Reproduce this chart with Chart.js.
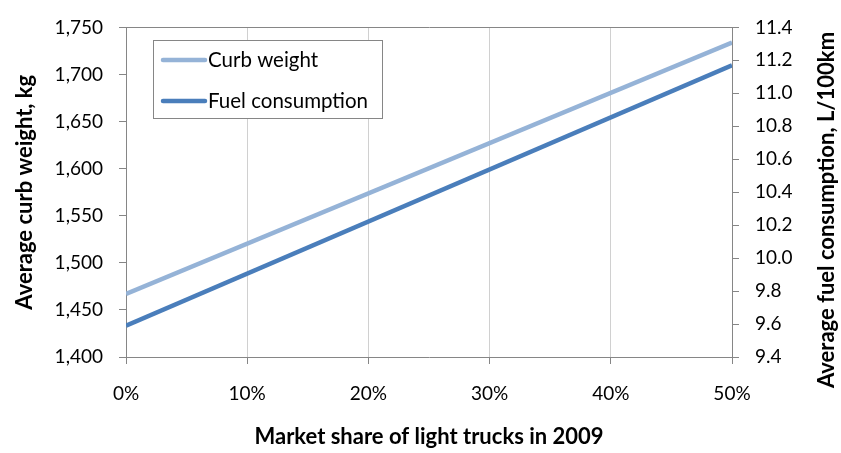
<!DOCTYPE html>
<html>
<head>
<meta charset="utf-8">
<script src="https://cdn.jsdelivr.net/npm/chart.js@4/dist/chart.umd.min.js"></script>
<style>
  body { margin: 0; background: #fff; }
  #wrap { width: 841px; height: 453px; }
</style>
</head>
<body>
<div id="wrap"><canvas id="myChart" width="841" height="453"></canvas></div>
<script>
// market share of light trucks (fraction), read at both ends of the lines
const shares = [0, 0.5];
const curbWeight = [1467, 1734];    // kg, left axis
const fuelUse = [9.59, 11.17];      // L/100km, right axis

const weightTicks = { min: 1400, max: 1750, step: 50 };
const fuelTicks = { min: 9.4, max: 11.4, step: 0.2 };
const shareTicks = { min: 0, max: 0.5, step: 0.1 };

const axisGray = "#868686";
const fontName = "Lato, 'Liberation Sans', sans-serif";

// legend in a framed box inside the plot, and the right title read bottom-up
const extras = {
  id: "extras",
  afterDraw(chart) {
    const ctx = chart.ctx;
    ctx.save();
    ctx.fillStyle = "#fff";
    ctx.strokeStyle = axisGray;
    ctx.lineWidth = 1;
    ctx.fillRect(153.5, 40.5, 229, 78);
    ctx.strokeRect(153.5, 40.5, 229, 78);
    ctx.font = "20.5px " + fontName;
    ctx.textBaseline = "middle";
    chart.data.datasets.forEach((ds, i) => {
      const y = 60 + i * 41;
      ctx.strokeStyle = ds.borderColor;
      ctx.lineWidth = 4.5;
      ctx.lineCap = "round";
      ctx.beginPath();
      ctx.moveTo(163, y);
      ctx.lineTo(205, y);
      ctx.stroke();
      ctx.fillStyle = "#000";
      ctx.fillText(ds.label, 208, y);
    });

    ctx.translate(827, 210);
    ctx.rotate(-Math.PI / 2);
    ctx.font = "bold 22px " + fontName;
    ctx.textAlign = "center";
    ctx.fillText("Average fuel consumption, L/100km", 0, 0);
    ctx.restore();
  },
};

new Chart(document.getElementById("myChart"), {
  type: "line",
  data: {
    datasets: [
      {
        label: "Curb weight",
        data: shares.map((s, i) => ({ x: s, y: curbWeight[i] })),
        yAxisID: "y",
        borderColor: "#95B3D7",
        borderWidth: 4.5,
        pointRadius: 0,
        fill: false,
      },
      {
        label: "Fuel consumption",
        data: shares.map((s, i) => ({ x: s, y: fuelUse[i] })),
        yAxisID: "y2",
        borderColor: "#4A7EBB",
        borderWidth: 4.5,
        pointRadius: 0,
        fill: false,
      },
    ],
  },
  options: {
    responsive: false,
    animation: false,
    layout: { padding: { top: 17, left: 0, right: 0, bottom: 0 } },
    plugins: { legend: { display: false }, tooltip: { enabled: false } },
    scales: {
      x: {
        type: "linear",
        min: shareTicks.min,
        max: shareTicks.max,
        afterFit: (s) => { s.height = 96; },
        ticks: {
          stepSize: shareTicks.step,
          padding: 18,
          color: "#000",
          font: { family: fontName, size: 19 },
          callback: (v) => Math.round(v * 100) + "%",
        },
        grid: { color: "#d0d0d0", tickColor: axisGray, tickLength: 7 },
        border: { color: axisGray },
        title: {
          display: true,
          text: "Market share of light trucks in 2009",
          color: "#000",
          font: { family: fontName, size: 22, weight: "bold" },
          padding: { top: 0, bottom: 3 },
        },
      },
      y: {
        position: "left",
        min: weightTicks.min,
        max: weightTicks.max,
        afterFit: (s) => { s.width = 126; },
        ticks: {
          stepSize: weightTicks.step,
          padding: 16,
          color: "#000",
          font: { family: fontName, size: 19 },
          callback: (v) => v.toLocaleString("en-US"),
        },
        grid: {
          color: (c) => (c.tick && c.tick.value === weightTicks.max ? axisGray : "transparent"),
          tickColor: axisGray,
          tickLength: 7,
        },
        border: { color: axisGray },
        title: {
          display: true,
          text: "Average curb weight, kg",
          color: "#000",
          font: { family: fontName, size: 22, weight: "bold" },
          padding: { top: 12, bottom: 0 },
        },
      },
      y2: {
        position: "right",
        min: fuelTicks.min,
        max: fuelTicks.max,
        afterFit: (s) => { s.width = 109; },
        ticks: {
          stepSize: fuelTicks.step,
          padding: 16,
          color: "#000",
          font: { family: fontName, size: 19 },
          callback: (v) => v.toFixed(1),
        },
        grid: { drawOnChartArea: false, tickColor: axisGray, tickLength: 7 },
        border: { color: axisGray },
      },
    },
  },
  plugins: [extras],
});
</script>
</body>
</html>
